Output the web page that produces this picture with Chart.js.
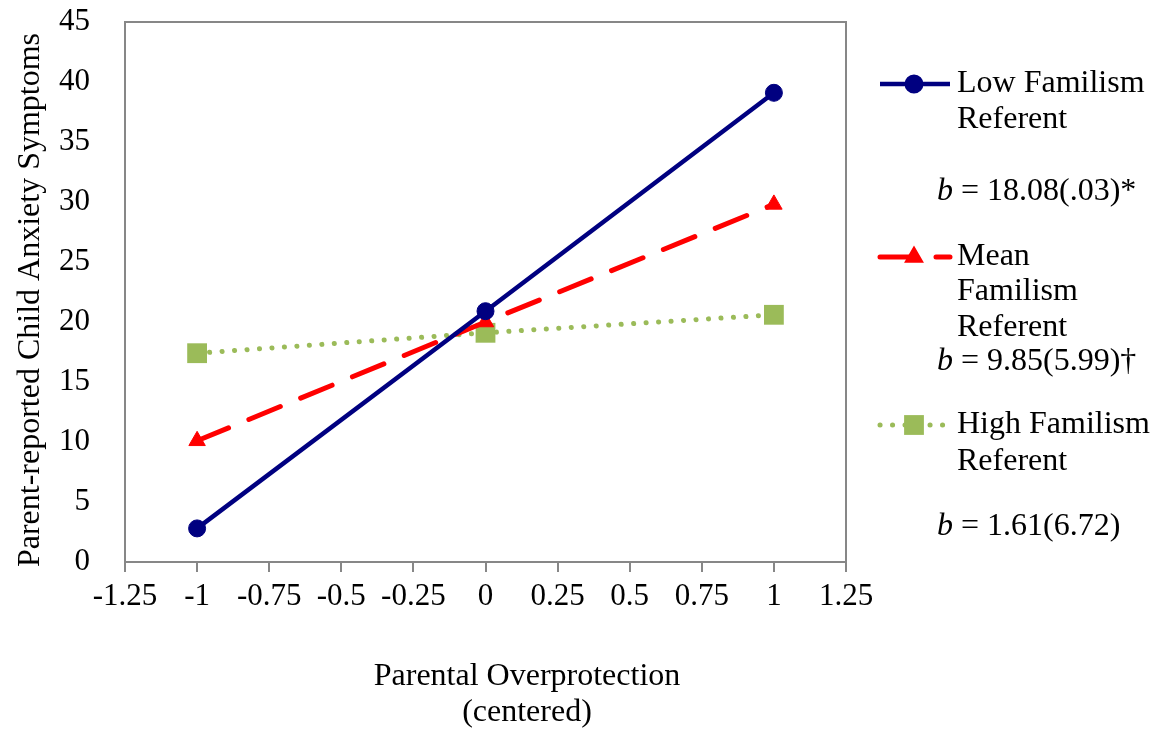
<!DOCTYPE html>
<html>
<head>
<meta charset="utf-8">
<script src="https://cdn.jsdelivr.net/npm/chart.js@4/dist/chart.umd.min.js"></script>
<style>
  html, body { margin: 0; padding: 0; background: #fff; }
  #wrap { width: 1158px; height: 732px; position: relative; }
</style>
</head>
<body>
<div id="wrap"><canvas id="chart"></canvas></div>
<script>
// overprotection levels (centered)
const xValues = [-1, 0, 1];

// parent-reported anxiety at each level
const lowFamilism = [2.8, 20.9, 39.1];
const meanFamilism = [10.1, 20.0, 29.8];
const highFamilism = [17.4, 19.1, 20.6];

const seriesNames = [
    ['Low Familism', 'Referent'],
    ['Mean', 'Familism', 'Referent'],
    ['High Familism', 'Referent']
];
const slopeLabels = [' = 18.08(.03)*', ' = 9.85(5.99)\u2020', ' = 1.61(6.72)'];

const xTitle = ['Parental Overprotection', '(centered)'];
const yTitle = 'Parent-reported Child Anxiety Symptoms';

const SERIF = '"Liberation Serif", "Times New Roman", serif';
const NAVY = '#000080';
const RED = '#ff0000';
const GREEN = '#9bbb59';
const AXIS_GRAY = '#878787';

const toPoints = ys => xValues.map((x, i) => ({ x: x, y: ys[i] }));

const datasets = [
    {
        label: 'Low Familism Referent',
        data: toPoints(lowFamilism),
        borderColor: NAVY,
        backgroundColor: NAVY,
        borderWidth: 4.5,
        pointStyle: 'circle',
        pointRadius: 8.5,
        pointBorderWidth: 1
    },
    {
        label: 'Mean Familism Referent',
        data: toPoints(meanFamilism),
        borderColor: RED,
        backgroundColor: RED,
        borderWidth: 5,
        borderDash: [34, 22],
        borderCapStyle: 'round',
        pointStyle: 'triangle',
        pointRadius: 9.5,
        pointBorderWidth: 1
    },
    {
        label: 'High Familism Referent',
        data: toPoints(highFamilism),
        borderColor: GREEN,
        backgroundColor: GREEN,
        borderWidth: 5,
        borderDash: [0.1, 12.4],
        borderCapStyle: 'round',
        pointStyle: 'rect',
        pointRadius: 14,
        pointBorderWidth: 0
    }
];

// legend rows: line y, text rows, slope row
const legendRows = [
    { lineY: 84, textY: [84, 120], slopeY: 192 },
    { lineY: 257, textY: [257, 292, 328], slopeY: 362 },
    { lineY: 425, textY: [425, 462], slopeY: 527 }
];

// border on top/right of the plot, axis titles and the custom legend
const extras = {
    id: 'extras',
    afterDraw(chart) {
        const ctx = chart.ctx;
        const a = chart.chartArea;
        ctx.save();
        ctx.strokeStyle = AXIS_GRAY;
        ctx.lineWidth = 2;
        ctx.beginPath();
        ctx.moveTo(a.left, a.top);
        ctx.lineTo(a.right, a.top);
        ctx.lineTo(a.right, a.bottom);
        ctx.stroke();

        // x axis title, two lines
        ctx.fillStyle = '#000';
        ctx.font = '32px ' + SERIF;
        ctx.textAlign = 'center';
        ctx.textBaseline = 'middle';
        ctx.fillText(xTitle[0], 527, 677);
        ctx.fillText(xTitle[1], 527, 713);

        // y axis title, rotated
        ctx.save();
        ctx.translate(31, 300);
        ctx.rotate(-Math.PI / 2);
        ctx.fillText(yTitle, 0, 0);
        ctx.restore();

        // legend
        const x0 = 880, x1 = 950, markX = 914;
        datasets.forEach((ds, i) => {
            const row = legendRows[i];
            ctx.save();
            ctx.strokeStyle = ds.borderColor;
            ctx.lineWidth = ds.borderWidth;
            ctx.lineCap = ds.borderCapStyle || 'butt';
            ctx.setLineDash(ds.borderDash || []);
            ctx.beginPath();
            ctx.moveTo(x0, row.lineY);
            ctx.lineTo(x1, row.lineY);
            ctx.stroke();
            ctx.restore();
            ctx.fillStyle = ds.backgroundColor;
            ctx.strokeStyle = ds.borderColor;
            Chart.helpers.drawPoint(ctx, {
                pointStyle: ds.pointStyle,
                radius: ds.pointRadius,
                borderWidth: ds.pointBorderWidth,
                rotation: 0
            }, markX, row.lineY);

            ctx.fillStyle = '#000';
            ctx.textAlign = 'left';
            ctx.font = '32px ' + SERIF;
            seriesNames[i].forEach((t, j) => ctx.fillText(t, 957, row.textY[j]));

            ctx.font = 'italic 32px ' + SERIF;
            ctx.fillText('b', 937, row.slopeY);
            const bw = ctx.measureText('b').width;
            ctx.font = '32px ' + SERIF;
            ctx.fillText(slopeLabels[i], 937 + bw, row.slopeY);
        });
        ctx.restore();
    }
};

new Chart(document.getElementById('chart'), {
    type: 'line',
    data: { datasets: datasets },
    options: {
        responsive: true,
        maintainAspectRatio: false,
        animation: false,
        layout: { padding: { top: 22, right: 312, left: 0, bottom: 0 } },
        plugins: {
            legend: { display: false },
            tooltip: { enabled: false }
        },
        scales: {
            x: {
                type: 'linear',
                min: -1.25,
                max: 1.25,
                afterFit: s => { s.height = 170; },
                ticks: {
                    stepSize: 0.25,
                    color: '#000',
                    font: { family: SERIF, size: 31 },
                    padding: 6,
                    maxRotation: 0,
                    callback: v => String(+v.toFixed(2))
                },
                grid: {
                    drawOnChartArea: false,
                    drawTicks: true,
                    tickLength: 10,
                    color: AXIS_GRAY,
                    lineWidth: 2
                },
                border: { display: true, color: AXIS_GRAY, width: 2 }
            },
            y: {
                min: 0,
                max: 45,
                // fixed width; tick padding would otherwise push the plot top down
                afterFit: s => { s.width = 125; s.paddingTop = 0; s.paddingBottom = 0; },
                ticks: {
                    stepSize: 5,
                    color: '#000',
                    font: { family: SERIF, size: 31 },
                    padding: 27
                },
                grid: { display: false },
                border: { display: true, color: AXIS_GRAY, width: 2 }
            }
        }
    },
    plugins: [extras]
});
</script>
</body>
</html>
